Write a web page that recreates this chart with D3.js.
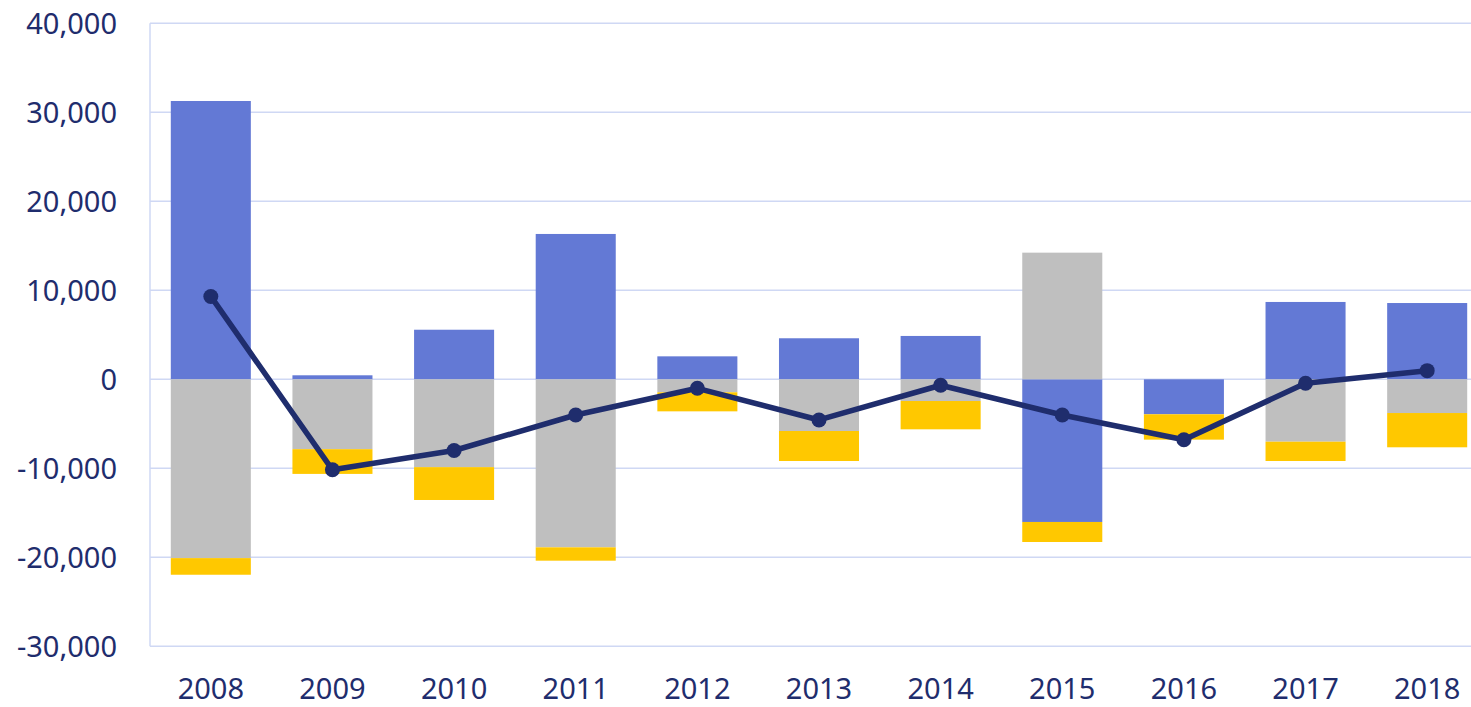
<!DOCTYPE html>
<html>
<head>
<meta charset="utf-8">
<script src="https://cdnjs.cloudflare.com/ajax/libs/d3/7.8.5/d3.min.js"></script>
<style>
  html, body { margin: 0; padding: 0; background: #fff; }
  svg text { font-family: "Noto Sans", "Open Sans", sans-serif; fill: #1f2d6d; }
</style>
</head>
<body>
<svg id="chart" width="1471" height="707"></svg>
<script>
// --- DATA --- //
var years = ["2008", "2009", "2010", "2011", "2012", "2013", "2014", "2015", "2016", "2017", "2018"];
var blueValues = [31270, 450, 5570, 16330, 2580, 4610, 4870, -16030, -3930, 8690, 8570];
var grayValues = [-20090, -7850, -9870, -18880, -1460, -5810, -2440, 14230, 0, -7010, -3790];
var yellowValues = [-1870, -2780, -3690, -1500, -2140, -3370, -3180, -2250, -2850, -2170, -3850];
var totalValues = [9310, -10170, -8000, -4010, -1010, -4570, -670, -4010, -6790, -450, 970];
var yTicks = [-30000, -20000, -10000, 0, 10000, 20000, 30000, 40000];

var seriesKeys = ["blue", "gray", "yellow"],
	seriesColors = { blue: "#6379d5", gray: "#bfbfbf", yellow: "#ffc800" };

var svg = d3.select("#chart"),
	plotLeft = 150,
	plotRight = 1488,
	plotTop = 23.3,
	plotBottom = 646.3;

// Table built for d3.stack
var table = years.map(function(yr, i) {
	return { year: yr, blue: blueValues[i], gray: grayValues[i], yellow: yellowValues[i] };
});

var x = d3.scaleBand()
	.domain(years)
	.range([plotLeft, plotRight])
	.paddingInner(0.342)
	.paddingOuter(0.171);

var y = d3.scaleLinear()
	.domain([-30000, 40000])
	.range([plotBottom, plotTop]);

// --- GRID --- //
svg.append("g")
	.selectAll("line")
	.data(yTicks)
	.enter().append("line")
	.attr("x1", plotLeft)
	.attr("x2", 1471)
	.attr("y1", function(d) { return y(d); })
	.attr("y2", function(d) { return y(d); })
	.attr("stroke", "#cfd8f4")
	.attr("stroke-width", 1.5);

svg.append("line")
	.attr("x1", plotLeft).attr("x2", plotLeft)
	.attr("y1", plotTop).attr("y2", plotBottom)
	.attr("stroke", "#cfd8f4")
	.attr("stroke-width", 1.5);

// --- BARS --- //
var stacked = d3.stack()
	.keys(seriesKeys)
	.offset(d3.stackOffsetDiverging)(table);

svg.append("g")
	.selectAll("g")
	.data(stacked)
	.enter().append("g")
	.attr("fill", function(d) { return seriesColors[d.key]; })
	.selectAll("rect")
	.data(function(d) { return d; })
	.enter().append("rect")
	.attr("x", function(d) { return x(d.data.year); })
	.attr("width", x.bandwidth())
	.attr("y", function(d) { return y(Math.max(d[0], d[1])); })
	.attr("height", function(d) { return Math.abs(y(d[0]) - y(d[1])); });

// --- TOTAL LINE --- //
var lineData = years.map(function(yr, i) { return { year: yr, value: totalValues[i] }; });

svg.append("path")
	.datum(lineData)
	.attr("fill", "none")
	.attr("stroke", "#1f2d6d")
	.attr("stroke-width", 5.5)
	.attr("stroke-linejoin", "round")
	.attr("d", d3.line()
		.x(function(d) { return x(d.year) + x.bandwidth() / 2; })
		.y(function(d) { return y(d.value); }));

svg.append("g")
	.selectAll("circle")
	.data(lineData)
	.enter().append("circle")
	.attr("cx", function(d) { return x(d.year) + x.bandwidth() / 2; })
	.attr("cy", function(d) { return y(d.value); })
	.attr("r", 7.5)
	.attr("fill", "#1f2d6d");

// --- AXES --- //
// Plain hyphen for negatives, like the source
var fmt = d3.format(",");
var yAxis = svg.append("g")
	.attr("transform", "translate(117,0)")
	.call(d3.axisLeft(y).tickValues(yTicks).tickSize(0).tickPadding(0)
		.tickFormat(function(d) { return fmt(d).replace("\u2212", "-"); }));
yAxis.select(".domain").remove();
yAxis.selectAll("text")
	.attr("font-size", "29px")
	.attr("dy", "0.35em")
	.style("font-family", "'Noto Sans', 'Open Sans', sans-serif")
	.attr("fill", "#1f2d6d");

var xAxis = svg.append("g")
	.attr("transform", "translate(0," + plotBottom + ")")
	.call(d3.axisBottom(x).tickSize(0).tickPadding(0));
xAxis.select(".domain").remove();
xAxis.selectAll("text")
	.attr("font-size", "29px")
	.attr("y", 53)
	.attr("dy", "0")
	.style("font-family", "'Noto Sans', 'Open Sans', sans-serif")
	.attr("fill", "#1f2d6d");
</script>
</body>
</html>
